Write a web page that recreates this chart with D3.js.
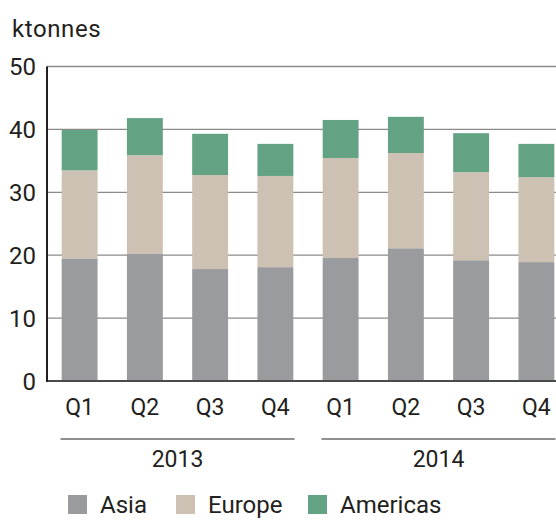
<!DOCTYPE html>
<head>
  <meta charset="utf-8">
  <title>ktonnes by quarter</title>
  <script src="https://cdn.jsdelivr.net/npm/d3@7"></script>
  <style>
    body { margin: 0; background: #fff; }
    text { font-family: Roboto, "Noto Sans", sans-serif; fill: #231f20; }
  </style>
</head>
<body>
<script>
  var quarters = ["Q1", "Q2", "Q3", "Q4", "Q1", "Q2", "Q3", "Q4"];
  var years = ["2013", "2014"];
  var asia = [19.4, 20.2, 17.8, 18.1, 19.55, 21.1, 19.2, 18.9];
  var europe = [14.1, 15.7, 14.95, 14.5, 15.9, 15.15, 14.0, 13.5];
  var americas = [6.4, 5.9, 6.55, 5.1, 6.05, 5.75, 6.2, 5.3];
  var seriesNames = ["Asia", "Europe", "Americas"];
  var yTicks = [0, 10, 20, 30, 40, 50];

  var colors = ["#9a9b9f", "#cdc1b3", "#63a283"];

  var width = 556, height = 520;
  var svg = d3.select("body").append("svg")
    .attr("width", width)
    .attr("height", height);

  var rows = quarters.map(function(q, i) {
    return { idx: i, Asia: asia[i], Europe: europe[i], Americas: americas[i] };
  });

  var x = d3.scaleBand()
    .domain(d3.range(quarters.length))
    .range([47, 569])
    .paddingInner(0.45)
    .paddingOuter(0.225);

  var y = d3.scaleLinear().domain([0, 50]).range([381, 66.5]);

  // grid
  svg.append("g").selectAll("line")
    .data(yTicks.slice(1))
    .enter().append("line")
    .attr("x1", 47).attr("x2", width)
    .attr("y1", function(d) { return y(d); })
    .attr("y2", function(d) { return y(d); })
    .attr("stroke", "#8a8a8a")
    .attr("stroke-width", 1.3);

  // y tick labels
  svg.append("g").selectAll("text")
    .data(yTicks)
    .enter().append("text")
    .attr("x", 36)
    .attr("y", function(d) { return y(d); })
    .attr("dy", "0.36em")
    .attr("text-anchor", "end")
    .style("font-size", "24px")
    .text(function(d) { return d; });

  svg.append("text")
    .attr("x", 12).attr("y", 37)
    .style("font-size", "24px")
    .style("letter-spacing", "0.6px")
    .text("ktonnes");

  // stacked bars
  var stack = d3.stack().keys(seriesNames)(rows);
  svg.append("g").selectAll("g")
    .data(stack)
    .enter().append("g")
    .attr("fill", function(d, i) { return colors[i]; })
    .selectAll("rect")
    .data(function(d) { return d; })
    .enter().append("rect")
    .attr("x", function(d) { return x(d.data.idx); })
    .attr("width", x.bandwidth())
    .attr("y", function(d) { return y(d[1]); })
    .attr("height", function(d) { return y(d[0]) - y(d[1]); });

  // axes lines
  svg.append("line")
    .attr("x1", 47).attr("x2", width)
    .attr("y1", y(0)).attr("y2", y(0))
    .attr("stroke", "#4a4a4a").attr("stroke-width", 2);
  svg.append("line")
    .attr("x1", 47).attr("x2", 47)
    .attr("y1", y(50)).attr("y2", y(0) + 1)
    .attr("stroke", "#231f20").attr("stroke-width", 2);

  // quarter labels
  svg.append("g").selectAll("text")
    .data(quarters)
    .enter().append("text")
    .attr("x", function(d, i) { return x(i) + x.bandwidth() / 2; })
    .attr("y", 415)
    .attr("text-anchor", "middle")
    .style("font-size", "23px")
    .text(function(d) { return d; });

  // year groups
  years.forEach(function(yr, g) {
    var left = x(g * 4), right = x(g * 4 + 3) + x.bandwidth();
    var mid = (left + right) / 2;
    svg.append("line")
      .attr("x1", mid - 117).attr("x2", mid + 117)
      .attr("y1", 439).attr("y2", 439)
      .attr("stroke", "#231f20").attr("stroke-width", 1);
    svg.append("text")
      .attr("x", mid).attr("y", 467)
      .attr("text-anchor", "middle")
      .style("font-size", "23px")
      .text(yr);
  });

  // legend
  var legendX = [68, 176, 308];
  var legend = svg.append("g");
  seriesNames.forEach(function(name, i) {
    legend.append("rect")
      .attr("x", legendX[i]).attr("y", 495)
      .attr("width", 19).attr("height", 19)
      .attr("fill", colors[i]);
    legend.append("text")
      .attr("x", legendX[i] + 32).attr("y", 513)
      .style("font-size", "24px")
      .text(name);
  });
</script>
</body>
